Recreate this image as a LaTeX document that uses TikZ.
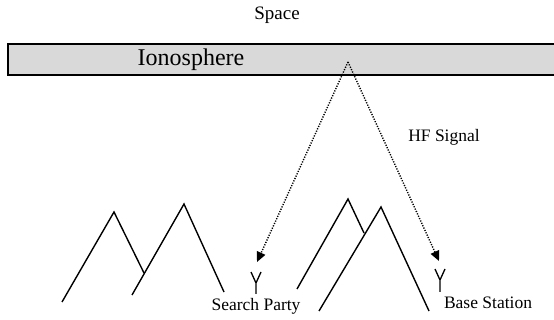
\documentclass[tikz,border=0pt]{standalone}
\usepackage{fontspec}
\setmainfont{Liberation Serif}
\usetikzlibrary{arrows.meta}
\begin{document}
\begin{tikzpicture}[x=1pt,y=-1pt,
  ridge/.style={line width=1.4pt, line join=miter},
  aerial/.style={line width=1.3pt},
  ray/.style={line width=1.4pt, dash pattern=on 1.2pt off 1.4pt, -{Triangle[length=10pt,width=9pt]}},
  lbl/.style={inner sep=0pt, font=\fontsize{17.5}{20}\selectfont}
]
\useasboundingbox (0,0) rectangle (554,320);
% ionosphere layer
\fill[gray!30] (8,44) rectangle (556,75);
\draw[line width=1.4pt] (556,44) -- (8,44) -- (8,75) -- (556,75);
\node[inner sep=0pt, font=\fontsize{24}{28}\selectfont] (iono) at (191,60) {Ionosphere};
\node[inner sep=0pt, font=\fontsize{19}{22}\selectfont] (space) at (277,15) {Space};
% reflection point and the two receivers
\coordinate (bounce) at (348,62);
\coordinate (sp) at (257,262);
\coordinate (bs) at (439,261);
\draw[ray] (bounce) -- (sp);
\draw[ray] (bounce) -- (bs);
\node[lbl] (hf) at (444,137) {HF Signal};
% mountains
\draw[ridge] (62,302) -- (114,212) -- (144,273);
\draw[ridge] (132,295) -- (184,204) -- (224,292);
\draw[ridge] (297,289) -- (348,199) -- (364,233);
\draw[ridge] (319,311) -- (381,207) -- (429,311);
% antennas
\draw[aerial] (251,272) -- (256,283) -- (261,272) (256,283) -- (256,294);
\draw[aerial] (435,269) -- (440,280) -- (445,269) (440,280) -- (440,292);
\node[lbl] (search) at (256,306) {Search Party};
\node[lbl] (base) at (488,303) {Base Station};
\end{tikzpicture}
\end{document}
